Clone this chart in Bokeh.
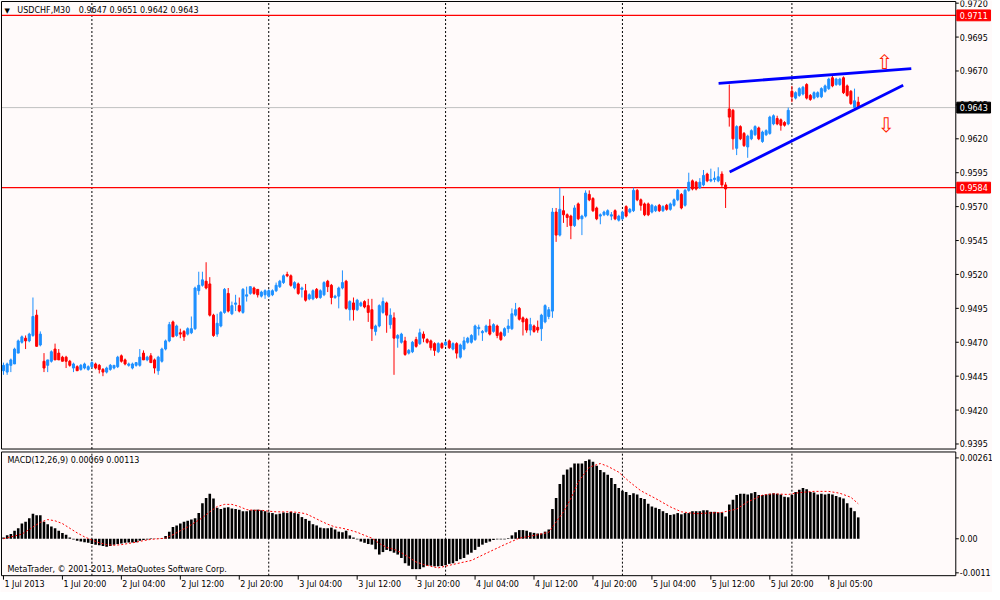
from bokeh.plotting import figure
from bokeh.models import ColumnDataSource, Range1d
from bokeh.layouts import column
from bokeh.embed import file_html
from bokeh.resources import INLINE
from bokeh.core.properties import value

# ---------------- data ----------------
symbol = "USDCHF,M30"
last_ohlc = "0.9647 0.9651 0.9642 0.9643"
macd_caption = "MACD(12,26,9) 0.00069 0.00113"
copyright_txt = "MetaTrader, \u00a9 2001-2013, MetaQuotes Software Corp."

opens = [
    .9449, .9448, .9453, .9454, .9462, .9470, .9473, .9471, .9475, .9490,
    .9468, .9456, .9453, .9456, .9465, .9462, .9459, .9459, .9456, .9451,
    .9452, .9450, .9451, .9450, .9452, .9454, .9453, .9450, .9448, .9450,
    .9451, .9452, .9460, .9457, .9453, .9451, .9453, .9453, .9462, .9457,
    .9460, .9457, .9449, .9456, .9465, .9471, .9485, .9475, .9477, .9478,
    .9476, .9477, .9480, .9508, .9512, .9515, .9513, .9490, .9476, .9482,
    .9492, .9506, .9491, .9498, .9497, .9492, .9504, .9506, .9510, .9509,
    .9504, .9505, .9504, .9505, .9508, .9511, .9514, .9520, .9519, .9510,
    .9513, .9509, .9508, .9502, .9502, .9509, .9503, .9505, .9515, .9512,
    .9503, .9504, .9510, .9515, .9494, .9499, .9494, .9497, .9500, .9497,
    .9494, .9478, .9482, .9492, .9499, .9483, .9488, .9473, .9470, .9471,
    .9462, .9463, .9472, .9469, .9476, .9472, .9471, .9469, .9463, .9469,
    .9468, .9471, .9465, .9469, .9459, .9465, .9470, .9470, .9472, .9480,
    .9477, .9478, .9482, .9478, .9482, .9477, .9475, .9480, .9480, .9490,
    .9495, .9488, .9487, .9479, .9482, .9481, .9480, .9485, .9489, .9493,
    .9566, .9549, .9567, .9564, .9563, .9556, .9572, .9561, .9563, .9579,
    .9576, .9569, .9563, .9564, .9564, .9563, .9567, .9560, .9561, .9570,
    .9566, .9567, .9582, .9575, .9572, .9572, .9566, .9567, .9571, .9567,
    .9571, .9568, .9571, .9575, .9579, .9571, .9582, .9589, .9588, .9584,
    .9586, .9594, .9589, .9590, .9589, .9594, .9586, .9642, .9641, .9613,
    .9629, .9624, .9614, .9620, .9623, .9628, .9618, .9623, .9624, .9631,
    .9635, .9634, .9632, .9631, .9655, .9650, .9652, .9653, .9660, .9652,
    .9650, .9651, .9651, .9655, .9657, .9665, .9660, .9660, .9665, .9659,
    .9655, .9643, .9647]
highs = [
    .9455, .9455, .9458, .9466, .9472, .9475, .9475, .9477, .9503, .9494,
    .9478, .9462, .9457, .9464, .9469, .9465, .9460, .9460, .9457, .9455,
    .9453, .9454, .9455, .9453, .9456, .9455, .9454, .9451, .9452, .9454,
    .9453, .9460, .9461, .9458, .9455, .9455, .9455, .9465, .9464, .9460,
    .9462, .9458, .9460, .9466, .9472, .9485, .9486, .9483, .9480, .9479,
    .9481, .9489, .9511, .9522, .9522, .9529, .9518, .9491, .9491, .9493,
    .9510, .9510, .9500, .9505, .9503, .9510, .9511, .9511, .9511, .9509,
    .9508, .9509, .9509, .9509, .9514, .9516, .9520, .9522, .9520, .9515,
    .9514, .9511, .9513, .9506, .9509, .9510, .9509, .9515, .9516, .9513,
    .9505, .9511, .9523, .9516, .9501, .9503, .9502, .9500, .9501, .9502,
    .9502, .9483, .9498, .9503, .9500, .9495, .9492, .9476, .9477, .9474,
    .9465, .9471, .9474, .9480, .9478, .9473, .9472, .9470, .9470, .9470,
    .9471, .9472, .9470, .9470, .9469, .9474, .9474, .9476, .9483, .9483,
    .9479, .9483, .9487, .9484, .9483, .9478, .9481, .9487, .9495, .9499,
    .9496, .9489, .9488, .9488, .9483, .9486, .9491, .9498, .9496, .9569,
    .9569, .9584, .9578, .9565, .9564, .9571, .9573, .9564, .9582, .9582,
    .9577, .9570, .9565, .9567, .9568, .9566, .9568, .9564, .9567, .9571,
    .9569, .9584, .9583, .9576, .9573, .9573, .9572, .9571, .9572, .9571,
    .9572, .9573, .9576, .9583, .9580, .9583, .9595, .9590, .9589, .9591,
    .9597, .9595, .9598, .9596, .9599, .9596, .9588, .9660, .9642, .9630,
    .9630, .9625, .9623, .9627, .9630, .9629, .9626, .9627, .9637, .9638,
    .9637, .9635, .9633, .9643, .9659, .9655, .9658, .9659, .9661, .9653,
    .9655, .9655, .9658, .9660, .9665, .9667, .9665, .9665, .9666, .9660,
    .9656, .9657, .9651]
lows = [
    .9446, .9446, .9448, .9454, .9462, .9469, .9465, .9470, .9474, .9467,
    .9467, .9448, .9448, .9455, .9457, .9457, .9456, .9451, .9452, .9448,
    .9449, .9449, .9450, .9449, .9451, .9450, .9447, .9445, .9447, .9449,
    .9450, .9451, .9455, .9453, .9452, .9450, .9452, .9452, .9457, .9456,
    .9455, .9447, .9446, .9455, .9464, .9470, .9474, .9474, .9473, .9471,
    .9475, .9476, .9479, .9505, .9511, .9509, .9489, .9474, .9474, .9481,
    .9491, .9492, .9490, .9493, .9492, .9491, .9500, .9505, .9505, .9503,
    .9503, .9502, .9503, .9504, .9507, .9510, .9513, .9518, .9511, .9509,
    .9505, .9503, .9500, .9501, .9501, .9502, .9502, .9504, .9507, .9498,
    .9502, .9495, .9509, .9494, .9486, .9486, .9493, .9496, .9495, .9485,
    .9471, .9475, .9481, .9491, .9477, .9480, .9446, .9466, .9469, .9460,
    .9461, .9462, .9466, .9468, .9470, .9469, .9464, .9460, .9462, .9465,
    .9467, .9465, .9464, .9458, .9458, .9464, .9469, .9469, .9471, .9475,
    .9471, .9477, .9475, .9477, .9473, .9471, .9474, .9477, .9479, .9489,
    .9486, .9475, .9477, .9475, .9477, .9477, .9471, .9484, .9487, .9488,
    .9544, .9548, .9558, .9555, .9546, .9555, .9560, .9549, .9562, .9574,
    .9566, .9560, .9557, .9563, .9563, .9560, .9560, .9559, .9560, .9562,
    .9565, .9566, .9574, .9567, .9563, .9563, .9565, .9566, .9566, .9566,
    .9567, .9567, .9570, .9574, .9568, .9570, .9581, .9582, .9582, .9583,
    .9585, .9588, .9588, .9588, .9588, .9584, .9569, .9629, .9612, .9608,
    .9619, .9614, .9606, .9619, .9622, .9619, .9617, .9622, .9623, .9630,
    .9630, .9626, .9629, .9630, .9647, .9649, .9651, .9652, .9649, .9648,
    .9649, .9650, .9650, .9654, .9656, .9658, .9659, .9659, .9653, .9651,
    .9645, .9642, .9642]
closes = [
    .9453, .9454, .9457, .9465, .9471, .9474, .9471, .9476, .9489, .9467,
    .9476, .9451, .9457, .9463, .9457, .9457, .9456, .9456, .9453, .9454,
    .9449, .9453, .9454, .9452, .9455, .9451, .9450, .9448, .9451, .9453,
    .9453, .9459, .9456, .9454, .9454, .9454, .9455, .9459, .9457, .9459,
    .9455, .9451, .9459, .9465, .9471, .9483, .9474, .9482, .9476, .9474,
    .9480, .9480, .9510, .9512, .9516, .9510, .9490, .9475, .9484, .9492,
    .9509, .9493, .9497, .9499, .9493, .9509, .9505, .9511, .9506, .9505,
    .9507, .9508, .9508, .9508, .9512, .9515, .9519, .9519, .9512, .9514,
    .9506, .9510, .9501, .9505, .9508, .9503, .9508, .9514, .9511, .9503,
    .9504, .9510, .9514, .9495, .9500, .9494, .9501, .9499, .9496, .9492,
    .9480, .9482, .9497, .9500, .9490, .9490, .9473, .9475, .9476, .9461,
    .9464, .9470, .9467, .9477, .9473, .9470, .9466, .9464, .9469, .9466,
    .9470, .9466, .9469, .9462, .9468, .9471, .9473, .9475, .9482, .9481,
    .9478, .9482, .9476, .9483, .9475, .9472, .9480, .9482, .9491, .9494,
    .9487, .9485, .9479, .9483, .9478, .9479, .9490, .9497, .9494, .9566,
    .9549, .9568, .9564, .9562, .9556, .9569, .9561, .9563, .9580, .9575,
    .9567, .9561, .9564, .9566, .9567, .9564, .9561, .9563, .9566, .9563,
    .9568, .9582, .9575, .9571, .9564, .9564, .9571, .9570, .9567, .9570,
    .9568, .9572, .9575, .9582, .9569, .9582, .9588, .9583, .9583, .9588,
    .9593, .9589, .9590, .9591, .9592, .9586, .9583, .9636, .9620, .9629,
    .9620, .9615, .9622, .9626, .9629, .9620, .9625, .9626, .9636, .9637,
    .9631, .9630, .9630, .9641, .9651, .9654, .9657, .9658, .9650, .9649,
    .9654, .9654, .9657, .9659, .9664, .9659, .9664, .9664, .9654, .9652,
    .9646, .9648, .9643]

macd_hist = [
    4e-5, 11e-5, 15e-5, 26e-5, 34e-5, 49e-5, 55e-5, 66e-5, 81e-5, 76e-5,
    76e-5, 55e-5, 47e-5, 40e-5, 34e-5, 26e-5, 19e-5, 13e-5, 4e-5, -2e-5,
    -6e-5, -9e-5, -11e-5, -13e-5, -17e-5, -19e-5, -21e-5, -23e-5, -26e-5, -23e-5,
    -19e-5, -17e-5, -15e-5, -13e-5, -12e-5, -12e-5, -11e-5, -6e-5, -4e-5, -2e-5,
    2e-5, 1e-5, 1e-5, 2e-5, 9e-5, 23e-5, 38e-5, 43e-5, 49e-5, 55e-5,
    58e-5, 62e-5, 66e-5, 83e-5, 115e-5, 132e-5, 145e-5, 130e-5, 100e-5, 96e-5,
    100e-5, 102e-5, 98e-5, 96e-5, 94e-5, 89e-5, 89e-5, 92e-5, 94e-5, 94e-5,
    92e-5, 89e-5, 85e-5, 83e-5, 79e-5, 81e-5, 85e-5, 83e-5, 87e-5, 83e-5,
    81e-5, 70e-5, 64e-5, 58e-5, 47e-5, 43e-5, 36e-5, 34e-5, 34e-5, 36e-5,
    30e-5, 23e-5, 21e-5, 26e-5, 11e-5, 4e-5, -2e-5, -9e-5, -13e-5, -17e-5,
    -19e-5, -34e-5, -51e-5, -43e-5, -36e-5, -40e-5, -45e-5, -51e-5, -62e-5, -79e-5,
    -87e-5, -98e-5, -98e-5, -98e-5, -92e-5, -87e-5, -87e-5, -89e-5, -89e-5, -88e-5,
    -85e-5, -81e-5, -79e-5, -72e-5, -66e-5, -62e-5, -51e-5, -45e-5, -36e-5, -26e-5,
    -19e-5, -13e-5, -9e-5, -4e-5, -2e-5, -2e-5, -2e-5, 2e-5, 11e-5, 21e-5,
    28e-5, 28e-5, 26e-5, 21e-5, 19e-5, 17e-5, 17e-5, 23e-5, 30e-5, 96e-5,
    132e-5, 177e-5, 207e-5, 224e-5, 230e-5, 243e-5, 243e-5, 243e-5, 251e-5, 256e-5,
    249e-5, 236e-5, 222e-5, 215e-5, 207e-5, 196e-5, 177e-5, 164e-5, 155e-5, 151e-5,
    141e-5, 147e-5, 143e-5, 132e-5, 128e-5, 113e-5, 104e-5, 100e-5, 96e-5, 89e-5,
    83e-5, 77e-5, 79e-5, 83e-5, 79e-5, 83e-5, 83e-5, 89e-5, 89e-5, 89e-5,
    92e-5, 92e-5, 87e-5, 87e-5, 85e-5, 85e-5, 72e-5, 111e-5, 126e-5, 141e-5,
    145e-5, 145e-5, 143e-5, 147e-5, 151e-5, 141e-5, 141e-5, 143e-5, 145e-5, 147e-5,
    145e-5, 143e-5, 136e-5, 134e-5, 141e-5, 151e-5, 158e-5, 164e-5, 160e-5, 151e-5,
    149e-5, 143e-5, 145e-5, 143e-5, 145e-5, 143e-5, 138e-5, 134e-5, 130e-5, 115e-5,
    100e-5, 89e-5, 69e-5]

signal_idx = [0, 5, 8, 10, 12, 14, 16, 18, 20, 22, 24, 26, 28, 30, 32, 34, 36, 38,
              40, 42, 44, 46, 48, 50, 52, 54, 56, 58, 60, 62, 64, 66, 68, 70, 72,
              74, 76, 78, 80, 82, 84, 86, 88, 90, 92, 94, 96, 98, 100, 102, 104,
              106, 108, 110, 112, 114, 116, 118, 122, 127, 131, 136, 140, 145,
              148, 152, 154, 156, 159, 162, 164, 167, 170, 173, 177, 181, 184,
              188, 191, 195, 199, 202, 206, 209, 213, 216, 220, 224, 227, 230, 232]
signal_val = [0, 15e-5, 38e-5, 53e-5, 62e-5, 58e-5, 49e-5, 34e-5, 19e-5, 6e-5,
              -4e-5, -13e-5, -19e-5, -21e-5, -19e-5, -15e-5, -11e-5, -6e-5, -2e-5,
              0, 2e-5, 13e-5, 26e-5, 38e-5, 53e-5, 68e-5, 87e-5, 104e-5, 111e-5,
              111e-5, 104e-5, 94e-5, 92e-5, 92e-5, 89e-5, 87e-5, 87e-5, 87e-5,
              85e-5, 81e-5, 70e-5, 58e-5, 47e-5, 38e-5, 34e-5, 28e-5, 21e-5, 11e-5,
              2e-5, -15e-5, -28e-5, -34e-5, -45e-5, -60e-5, -75e-5, -83e-5, -89e-5,
              -94e-5, -83e-5, -70e-5, -47e-5, -19e-5, 2e-5, 13e-5, 21e-5, 87e-5,
              130e-5, 183e-5, 231e-5, 243e-5, 234e-5, 215e-5, 183e-5, 155e-5,
              130e-5, 103e-5, 87e-5, 81e-5, 83e-5, 85e-5, 96e-5, 119e-5, 141e-5,
              145e-5, 143e-5, 149e-5, 153e-5, 153e-5, 147e-5, 134e-5, 113e-5]

tick_idx = [0, 16, 32, 48, 64, 80, 96, 112, 128, 144, 160, 176, 192, 208, 224]
tick_lbl = ["1 Jul 2013", "1 Jul 20:00", "2 Jul 04:00", "2 Jul 12:00", "2 Jul 20:00",
            "3 Jul 04:00", "3 Jul 12:00", "3 Jul 20:00", "4 Jul 04:00", "4 Jul 12:00",
            "4 Jul 20:00", "5 Jul 04:00", "5 Jul 12:00", "5 Jul 20:00", "8 Jul 05:00"]
day_sep_idx = [24, 72, 120, 168, 214]

price_ticks = [0.9395, 0.9420, 0.9445, 0.9470, 0.9495, 0.9520, 0.9545, 0.9570,
               0.9595, 0.9620, 0.9645, 0.9670, 0.9695, 0.9720]
price_tick_lbl = ["0.9395", "0.9420", "0.9445", "0.9470", "0.9495", "0.9520",
                  "0.9545", "0.9570", "0.9595", "0.9620", "0.9645", "0.9670",
                  "0.9695", "0.9720"]
macd_ticks = [-0.0011, 0.0, 0.00261]
macd_tick_lbl = ["-0.0011", "0.00", "0.00261"]

level_lines = [0.9711, 0.9584]
bid_price = 0.9643
tag_prices = [0.9711, 0.9643, 0.9584]
tag_lbl = ["0.9711", "0.9643", "0.9584"]
tag_colors = ["#FF0000", "#000000", "#FF0000"]

trend_x0 = [194.1, 197.1]
trend_y0 = [0.96609, 0.95955]
trend_x1 = [246.4, 244.2]
trend_y1 = [0.96718, 0.96595]

arrow_x = [239.1, 239.6]
arrow_y = [0.96769, 0.96304]
arrow_txt = ["\u21e7", "\u21e9"]

# ---------------- layout helpers (reference pixel geometry) ----------------
TOTAL_W, TOTAL_H = 992, 592
SPLIT_PY = 456.5          # reference y where the MACD window starts
BAR_PX = 3.714            # px per bar in the reference
X0_PX = 3.0               # px of bar 0
PRICE_PX = 13760.0        # px per 1.0 price
PRICE_Y0 = 2.7            # px of 0.9720
MACD_PX = 31300.0         # px per 1.0 MACD
MACD_ZERO_PY = 545.7


def xd(px):
    return (px - X0_PX) / BAR_PX


def ym(py):
    return 0.9720 - (py - PRICE_Y0) / PRICE_PX


def yk(py):
    return (MACD_ZERO_PY - py) / MACD_PX


H1 = round(SPLIT_PY * TOTAL_H / 600.0)
H2 = TOTAL_H - H1

FONT = "DejaVu Sans"
FS = "8px"
BG = "#FFFAFA"
BULL = "#1E90FF"
BEAR = "#FF0000"
AX_PX = 963.0             # axis line
LEFT_PX = 1.0

xr = Range1d(xd(0), xd(1000))


def base_fig(h, yr):
    f = figure(x_range=xr, y_range=yr, frame_width=TOTAL_W, frame_height=h,
               output_backend="svg", toolbar_location=None,
               x_axis_location=None, y_axis_location=None, min_border=0,
               background_fill_color=BG, border_fill_color=BG,
               outline_line_color=None)
    f.grid.visible = False
    return f


def txt(f, x, y, s, **kw):
    opts = dict(text_font=value(FONT), text_font_size=value(FS),
                text_color="black", text_baseline="middle", text_align="left")
    opts.update(kw)
    f.text(x=x, y=y, text=s, **opts)


# ---------------- main price panel ----------------
p = base_fig(H1, Range1d(ym(SPLIT_PY), ym(0)))
top_main, bot_main = ym(1), ym(455)

for sx in day_sep_idx:
    p.segment(x0=sx, y0=bot_main, x1=sx, y1=top_main, line_color="black",
              line_width=1, line_dash="2 2")
p.segment(x0=[xd(LEFT_PX)] * len(level_lines), y0=level_lines,
          x1=[xd(AX_PX)] * len(level_lines), y1=level_lines,
          line_color="#FF0000", line_width=1.3)
p.segment(x0=xd(LEFT_PX), y0=bid_price, x1=xd(AX_PX), y1=bid_price,
          line_color="#C0C0C0", line_width=1)

N = len(closes)
xs = list(range(N))
top = [max(o, c) for o, c in zip(opens, closes)]
bot = [min(o, c) for o, c in zip(opens, closes)]
hi = [max(h, o, c) for h, o, c in zip(highs, opens, closes)]
lo = [min(l, o, c) for l, o, c in zip(lows, opens, closes)]
col = [BULL if c >= o else BEAR for o, c in zip(opens, closes)]
src = ColumnDataSource(dict(x=xs, top=top, bot=bot, hi=hi, lo=lo, color=col))
p.segment(x0="x", y0="hi", x1="x", y1="lo", line_color="color", line_width=1,
          source=src)
p.vbar(x="x", width=0.55, top="top", bottom="bot", fill_color="color",
       line_color="color", line_width=1, source=src)

p.segment(x0=trend_x0, y0=trend_y0, x1=trend_x1, y1=trend_y1,
          line_color="#0000FF", line_width=2.8)
p.text(x=arrow_x, y=arrow_y, text=arrow_txt, text_color="#FF2000",
       text_font=value(FONT), text_font_size=value("20px"),
       text_align="center", text_baseline="middle")

# frame box
p.quad(left=xd(LEFT_PX), right=xd(AX_PX), top=top_main, bottom=bot_main,
       fill_color=None, line_color="black", line_width=1)

# right price axis
p.segment(x0=[xd(AX_PX)] * len(price_ticks), y0=price_ticks,
          x1=[xd(AX_PX + 3)] * len(price_ticks), y1=price_ticks,
          line_color="black", line_width=1)
txt(p, [xd(AX_PX + 4)] * len(price_ticks), price_ticks, price_tick_lbl)

# price tags
half = 5.5 / PRICE_PX
p.quad(left=[xd(AX_PX + 1)] * 3, right=[xd(998)] * 3,
       top=[v + half for v in tag_prices], bottom=[v - half for v in tag_prices],
       fill_color=tag_colors, line_color=tag_colors)
txt(p, [xd(AX_PX + 4)] * 3, tag_prices, tag_lbl, text_color="white")

# header
txt(p, [xd(6.7)], [ym(10.5)], ["\u25bc"], text_font_size=value("7px"),
    text_align="center")
txt(p, [xd(17)], [ym(10.5)], [symbol])
txt(p, [xd(79)], [ym(10.5)], [last_ohlc])

# ---------------- MACD panel ----------------
p2 = base_fig(H2, Range1d(yk(600), yk(SPLIT_PY)))
top_k, bot_k = yk(458), yk(583)

for sx in day_sep_idx:
    p2.segment(x0=sx, y0=bot_k, x1=sx, y1=top_k, line_color="black",
               line_width=1, line_dash="2 2")
p2.vbar(x=xs, width=0.7, top=macd_hist, bottom=0, fill_color="#000000",
        line_color=None)
p2.line(signal_idx, signal_val, line_color="#FF0000", line_width=1,
        line_dash="2 2")

p2.quad(left=xd(LEFT_PX), right=xd(AX_PX), top=top_k, bottom=bot_k,
        fill_color=None, line_color="black", line_width=1)

# right MACD axis
p2.segment(x0=[xd(AX_PX)] * len(macd_ticks), y0=macd_ticks,
           x1=[xd(AX_PX + 3)] * len(macd_ticks), y1=macd_ticks,
           line_color="black", line_width=1)
txt(p2, [xd(AX_PX + 4)] * len(macd_ticks), macd_ticks, macd_tick_lbl)

# time axis
p2.segment(x0=tick_idx, y0=[bot_k] * len(tick_idx), x1=tick_idx,
           y1=[yk(587)] * len(tick_idx), line_color="black", line_width=1)
txt(p2, [t + 1.0 / BAR_PX for t in tick_idx], [yk(592)] * len(tick_idx), tick_lbl)

# captions
txt(p2, [xd(7)], [yk(467)], [macd_caption])
txt(p2, [xd(7)], [yk(577)], [copyright_txt])

layout = column(p, p2, spacing=0)
open("out.html", "w").write(file_html(layout, INLINE, "USDCHF,M30"))
